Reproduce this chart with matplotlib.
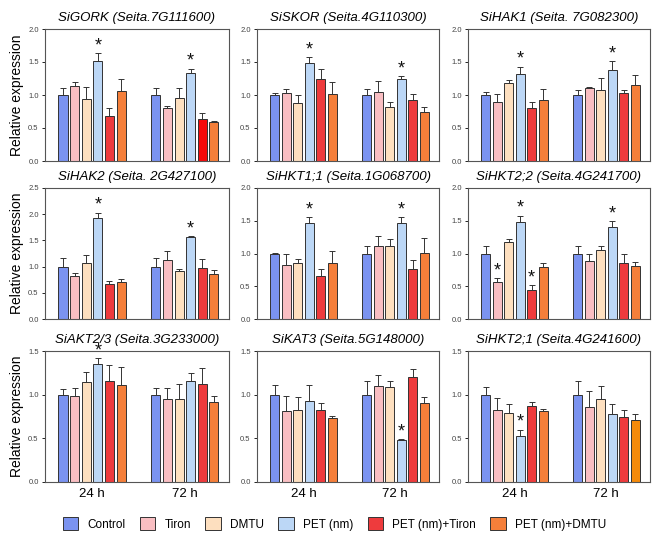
import matplotlib
matplotlib.use("Agg")
import matplotlib.pyplot as plt
import numpy as np
from matplotlib.patches import Patch

treatments = ["Control", "Tiron", "DMTU", "PET (nm)", "PET (nm)+Tiron", "PET (nm)+DMTU"]
colors = ["#7b93f0", "#f9bec2", "#fddfbf", "#bcd7f6", "#ee3b3d", "#f57f3a"]
timepoints = ["24 h", "72 h"]

titles = [
    "SiGORK (Seita.7G111600)", "SiSKOR (Seita.4G110300)", "SiHAK1 (Seita. 7G082300)",
    "SiHAK2 (Seita. 2G427100)", "SiHKT1;1 (Seita.1G068700)", "SiHKT2;2 (Seita.4G241700)",
    "SiAKT2/3 (Seita.3G233000)", "SiKAT3 (Seita.5G148000)", "SiHKT2;1 (Seita.4G241600)",
]
ymax = [2.0, 2.0, 2.0, 2.5, 2.0, 2.0, 1.5, 1.5, 1.5]

# means: [24h values, 72h values]
means = [
    [[1.00, 1.13, 0.94, 1.52, 0.68, 1.06], [1.00, 0.80, 0.96, 1.33, 0.63, 0.59]],
    [[1.00, 1.03, 0.88, 1.48, 1.24, 1.02], [1.00, 1.05, 0.82, 1.25, 0.92, 0.74]],
    [[1.00, 0.89, 1.18, 1.32, 0.81, 0.92], [1.00, 1.11, 1.08, 1.38, 1.03, 1.15]],
    [[1.00, 0.83, 1.06, 1.92, 0.66, 0.70], [1.00, 1.12, 0.91, 1.56, 0.98, 0.86]],
    [[1.00, 0.82, 0.85, 1.47, 0.65, 0.85], [1.00, 1.12, 1.12, 1.47, 0.77, 1.01]],
    [[1.00, 0.57, 1.18, 1.48, 0.45, 0.80], [1.00, 0.88, 1.06, 1.40, 0.86, 0.81]],
    [[1.00, 0.985, 1.14, 1.35, 1.16, 1.11], [1.00, 0.95, 0.95, 1.16, 1.12, 0.92]],
    [[1.00, 0.81, 0.83, 0.93, 0.82, 0.73], [1.00, 1.10, 1.09, 0.48, 1.20, 0.91]],
    [[1.00, 0.82, 0.79, 0.53, 0.87, 0.81], [1.00, 0.86, 0.95, 0.78, 0.75, 0.71]],
]
errors = [
    [[0.10, 0.06, 0.18, 0.11, 0.12, 0.19], [0.10, 0.04, 0.14, 0.07, 0.10, 0.02]],
    [[0.03, 0.06, 0.12, 0.09, 0.15, 0.17], [0.09, 0.16, 0.07, 0.04, 0.10, 0.08]],
    [[0.05, 0.12, 0.05, 0.11, 0.09, 0.17], [0.07, 0.01, 0.18, 0.14, 0.04, 0.16]],
    [[0.16, 0.05, 0.17, 0.11, 0.06, 0.07], [0.17, 0.17, 0.04, 0.03, 0.16, 0.08]],
    [[0.01, 0.18, 0.07, 0.09, 0.11, 0.19], [0.11, 0.15, 0.10, 0.08, 0.13, 0.22]],
    [[0.11, 0.06, 0.04, 0.10, 0.07, 0.06], [0.12, 0.11, 0.06, 0.09, 0.13, 0.06]],
    [[0.07, 0.09, 0.12, 0.07, 0.18, 0.21], [0.08, 0.13, 0.17, 0.09, 0.18, 0.07]],
    [[0.11, 0.18, 0.14, 0.18, 0.09, 0.03], [0.16, 0.13, 0.07, 0.01, 0.09, 0.06]],
    [[0.09, 0.14, 0.10, 0.07, 0.05, 0.03], [0.16, 0.18, 0.15, 0.11, 0.07, 0.07]],
]
# significance markers: (timepoint index, treatment index)
stars = [
    [(0, 3), (1, 3)], [(0, 3), (1, 3)], [(0, 3), (1, 3)],
    [(0, 3), (1, 3)], [(0, 3), (1, 3)], [(0, 1), (0, 3), (0, 4), (1, 3)],
    [(0, 3)], [(1, 3)], [(0, 3)],
]
# a few bars drawn in a slightly different shade in the original
color_overrides = {(0, 1, 4): "#f50a0a", (8, 1, 5): "#f58a0a"}

plt.rcParams['font.family'] = ['Liberation Sans', 'DejaVu Sans']
fig = plt.figure(figsize=(6.69, 5.45), dpi=100)
W, H = 669, 545
lefts = [45, 257, 468]
widths = [184, 182, 182]
tops = [29, 188, 351]
heights = [132, 131, 131]

group_start = [0, 8]
bw = 0.78

for i in range(9):
    r, c = divmod(i, 3)
    ax = fig.add_axes([lefts[c] / W, 1 - (tops[r] + heights[r]) / H, widths[c] / W, heights[r] / H])
    for g in range(2):
        x = np.arange(6) + group_start[g]
        cols = [color_overrides.get((i, g, k), colors[k]) for k in range(6)]
        ax.bar(x, means[i][g], width=bw, color=cols, edgecolor="#333333", linewidth=0.7, zorder=2)
        ax.errorbar(x, means[i][g], yerr=[np.zeros(6), errors[i][g]], fmt="none",
                    ecolor="#333333", elinewidth=0.7, capsize=2, capthick=0.7, zorder=3)
    for (g, k) in stars[i]:
        xx = group_start[g] + k
        yy = means[i][g][k] + errors[i][g][k] - 0.02 * ymax[i] / 2.0
        ax.text(xx, yy, "*", ha="center", va="bottom", fontsize=13, color="#111111",
                clip_on=False)
    ax.set_ylim(0, ymax[i])
    ax.set_xlim(-1.55, 14.3)
    ax.set_yticks(np.arange(0, ymax[i] + 0.01, 0.5))
    ax.set_yticklabels([f"{v:.1f}" for v in np.arange(0, ymax[i] + 0.01, 0.5)])
    ax.tick_params(axis="y", labelsize=5.5, labelcolor="#444444", length=2.5, width=0.6, pad=2)
    if r == 2:
        ax.set_xticks([2.5, 10.5])
        ax.set_xticklabels(timepoints, fontsize=9.5)
        ax.tick_params(axis="x", length=0, pad=4)
    else:
        ax.set_xticks([])
    for s in ax.spines.values():
        s.set_linewidth(0.8)
        s.set_color("#555555")
    ax.set_title(titles[i], fontsize=9.5, style="italic", pad=6)
    if c == 0:
        ax.set_ylabel("Relative expression", fontsize=10, labelpad=3)

handles = [Patch(facecolor=colors[k], edgecolor="#333333", linewidth=0.7) for k in range(6)]
fig.legend(handles, treatments, loc="center", bbox_to_anchor=(0.5, 1 - 524 / H), ncol=6,
           frameon=False, fontsize=8.5, handlelength=1.3, handleheight=1.3, columnspacing=1.2,
           handletextpad=0.8)

fig.savefig("out.png", dpi=100)
